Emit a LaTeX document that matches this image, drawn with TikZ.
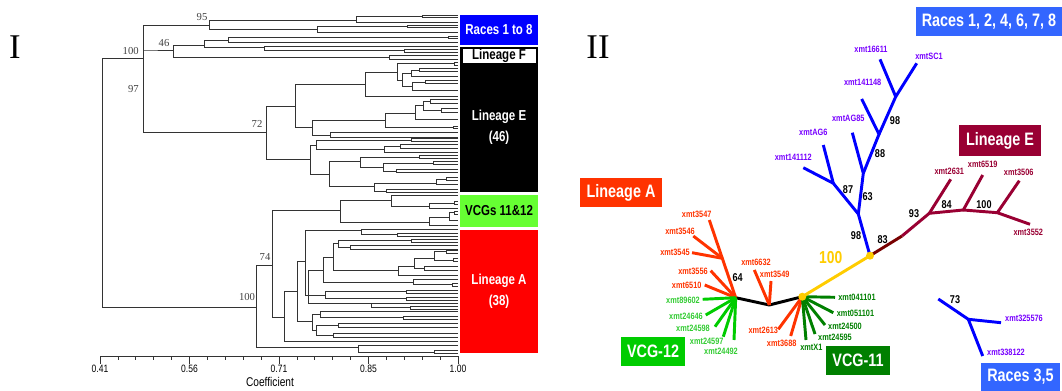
\documentclass[tikz,border=0pt]{standalone}
\usepackage{fontspec}
\setmainfont{Liberation Serif}
\newfontfamily\nfont[FakeStretch=0.8]{Liberation Sans}
\usepackage{tikz}
\definecolor{raceB}{RGB}{0,0,255}
\definecolor{raceBox}{RGB}{51,102,255}
\definecolor{raceTxt}{RGB}{119,0,255}
\definecolor{linE}{RGB}{153,0,51}
\definecolor{linEd}{RGB}{120,0,0}
\definecolor{linA}{RGB}{255,51,0}
\definecolor{vcgL}{RGB}{0,204,0}
\definecolor{vcgLt}{RGB}{51,204,51}
\definecolor{vcgD}{RGB}{0,128,0}
\definecolor{gold}{RGB}{255,204,0}
\definecolor{limeG}{RGB}{102,255,51}
\tikzset{
  dline/.style={draw=black!80, line width=0.5pt},
  dnum/.style={font=\fontsize{8}{8}\selectfont, text=black!75, inner sep=0pt},
  ticklab/.style={font=\nfont\fontsize{8}{8}\selectfont, inner sep=0pt},
  bartxt/.style={font=\nfont\bfseries\fontsize{10.8}{13}\selectfont, text=white, align=center, inner sep=0pt},
  boxlab/.style={font=\nfont\bfseries\fontsize{13.5}{14}\selectfont, text=white, inner sep=0pt},
  leaf/.style={font=\nfont\bfseries\fontsize{6.9}{7}\selectfont, inner sep=0pt},
  boot/.style={font=\nfont\bfseries\fontsize{8.5}{9}\selectfont, inner sep=0pt},
  tr/.style={line width=2.2pt, line join=round}
}
\begin{document}
\begin{tikzpicture}[x=0.75pt, y=-0.75pt]
\useasboundingbox (0,0) rectangle (1062,391);
% panel I: dendrogram
\node[font=\fontsize{26}{26}\selectfont] (pI) at (15,47) {I};
\foreach \x/\ya/\yb/\xa/\xb in {
  102/58/307/143/256, 143/25/132/209/266, 143/50/50/173/173,
  209/20.7/29.3/356/317, 356/16.5/22.7/422/458, 422/15.5/17.5/458/458,
  317/26/32/407/458, 407/25/27.5/458/458,
  173/45/57/204/389, 204/40.7/47.7/228/264, 228/37.7/42.3/448/458,
  448/36.5/38.8/458/458, 264/46/50.7/458/404, 404/49.3/52.3/458/458,
  389/55.3/59.3/458/458,
  266/106/159/295/310, 295/84/127/365/312, 365/72/96/397/458,
  397/63/80/454/402, 454/62/65.5/458/458, 402/73/86/411/412,
  411/70/76/419/458, 419/68.5/71.5/458/458, 412/82/90/425/458,
  425/80.5/83.5/458/458,
  312/120/135/385/330, 385/113/127/415/453, 415/105/119/423/458,
  423/101/110/430/441, 430/99/103/458/458, 441/108/112/458/458,
  453/126/128.5/458/458, 330/132.7/137/458/458,
  310/145/174/316/329, 316/140/149/411/384, 411/138.3/141.7/458/458,
  384/146.5/152/400/458, 400/144.5/148.5/458/458,
  329/161.7/186/360/374, 360/157/167.7/419/383, 419/155.5/158.5/458/458,
  383/163/171/433/396, 433/161.5/164.5/458/458, 396/169.5/172.5/458/458,
  374/183/191/436/386, 436/179.5/184.5/446/458, 446/177.5/180.5/458/458,
  386/189.5/192.5/458/458,
  256/265/347/272/358, 272/210.7/317.3/340/284,
  340/200/222/391/429, 391/195.5/206/458/429, 429/203/208.5/454/458,
  454/201/204/458/458, 429/217.3/225/449/458, 449/212.7/220/454/458,
  454/211/214/458/458,
  284/291.7/341.7/297/458, 297/261.7/321.7/305/312, 305/230/295/361/325,
  361/229/234/458/397, 397/233/236/458/458, 308/270/303/323/371,
  323/257/282/333/413, 333/243/270.5/338/398, 338/240.5/247/411/350,
  411/239/242/458/458, 350/245/249/458/458, 398/266.5/275/414/458,
  414/258/268/434/424, 434/251.5/260/446/453, 446/250/253/458/458,
  453/258.5/261.5/458/458, 424/266.5/270/458/458, 413/279/284/458/452,
  452/283/286/458/458, 325/291.5/298.5/406/406, 406/290/293/458/458,
  406/297/300/458/458, 371/303/307/458/410, 410/306/309/458/458,
  312/314/330/320/316, 320/311.5/317/458/403, 403/316/319/458/458,
  316/325/335/338/333, 338/323.5/327/458/458, 333/333/337/458/458,
  358/345/352/458/434, 434/350.5/353.5/458/458}
  \draw[dline] (\xa,\ya) -- (\x,\ya) -- (\x,\yb) -- (\xb,\yb);
\node[dnum] (n95) at (202,17) {95};
\node[dnum, anchor=east] (n100a) at (139,51) {100};
\node[dnum] (n46) at (164,43) {46};
\node[dnum, anchor=east] (n97) at (139,89) {97};
\node[dnum] (n72) at (257,124) {72};
\node[dnum] (n74) at (265,257) {74};
\node[dnum] (n100b) at (247,297) {100};
% axis
\draw[dline] (100,356) -- (458,356);
\foreach \i in {0,...,20} \draw[dline] (100+\i*17.9,356) -- ++(0,4);
\foreach \i/\lab in {0/0.41,1/0.56,2/0.71,3/0.85,4/1.00} {
  \draw[dline] (100+\i*89.5,356) -- ++(0,8);
  \node[ticklab] (t\i) at (100+\i*89.5,369) {\lab};
}
\node[font=\nfont\fontsize{9.5}{10}\selectfont] (coef) at (270,382) {Coefficient};
% colour bars
\fill[raceB] (460,15) rectangle (538,45);
\fill[black] (460,47) rectangle (538,192);
\fill[white] (463,49) rectangle (536,63);
\fill[limeG] (460,195) rectangle (538,227);
\fill[red] (460,230) rectangle (538,353);
\node[bartxt] (bR) at (499,30) {Races 1 to 8};
\node[bartxt, text=black] (bF) at (499,56) {Lineage F};
\node[bartxt] (bE) at (499,127) {Lineage E\\[3pt](46)};
\node[bartxt, text=black] (bV) at (499,211) {VCGs 11\&12};
\node[bartxt] (bA) at (499,291) {Lineage A\\[3pt](38)};
% panel II: unrooted tree
\node[font=\fontsize{26}{26}\selectfont] (pII) at (598,47) {II};
\coordinate (jE) at (870,255.7);
\coordinate (jA) at (802.3,296.7);
\coordinate (b1) at (858.3,214);
\coordinate (b2) at (833.3,183.3);
\coordinate (b3) at (863.3,173.3);
\coordinate (b4) at (879,134.3);
\coordinate (b5) at (895.7,96.7);
\coordinate (l141112) at (803.3,167.7);
\coordinate (lAG6) at (823.3,145);
\coordinate (lAG85) at (852.3,132.7);
\coordinate (l141148) at (861.7,99);
\coordinate (l16611) at (880,59.3);
\coordinate (lSC1) at (916.7,63.3);
\coordinate (m1) at (902,236);
\coordinate (m2) at (929.3,213.3);
\coordinate (m3) at (963.3,210);
\coordinate (m4) at (997.3,212.7);
\coordinate (l2631) at (950.7,179.3);
\coordinate (l6519) at (982.7,175);
\coordinate (l3506) at (1019.3,180.7);
\coordinate (l3552) at (1030,224.3);
\coordinate (k1) at (769.3,305);
\coordinate (k2) at (735.7,297.7);
\coordinate (a1) at (722.3,258.3);
\coordinate (l3547) at (709.3,220);
\coordinate (l3546) at (693.3,236);
\coordinate (l3545) at (692,252.7);
\coordinate (l3556) at (710.7,270.7);
\coordinate (l6510) at (704.7,285);
\coordinate (l6632) at (754.3,270);
\coordinate (l3549) at (771,281);
\coordinate (l89602) at (702.7,299.3);
\coordinate (l24646) at (705.7,315);
\coordinate (l24598) at (715,326.7);
\coordinate (l24597) at (723.3,336.7);
\coordinate (l24492) at (734,340);
\coordinate (l2613) at (778.3,329.3);
\coordinate (l3688) at (790.7,336);
\coordinate (l041101) at (835,297.3);
\coordinate (l051101) at (833.3,312.7);
\coordinate (l24500) at (825,325);
\coordinate (l24595) at (815,334);
\coordinate (lX1) at (806,340);
\coordinate (r0) at (938.3,299);
\coordinate (r1) at (968.3,319.3);
\coordinate (l325576) at (1001,322.7);
\coordinate (l338122) at (982.7,356);
% races 1,2,4,6,7,8
\draw[tr, raceB] (jE) -- (b1) -- (b2) -- (l141112);
\draw[tr, raceB] (b2) -- (lAG6);
\draw[tr, raceB] (b1) -- (b3) -- (lAG85);
\draw[tr, raceB] (b3) -- (b4) -- (l141148);
\draw[tr, raceB] (b4) -- (b5) -- (l16611);
\draw[tr, raceB] (b5) -- (lSC1);
% lineage E
\draw[tr, linEd] (jE) -- (m1);
\draw[tr, linE] (m1) -- (m2) -- (l2631);
\draw[tr, linE] (m2) -- (m3) -- (l6519);
\draw[tr, linE] (m3) -- (m4) -- (l3506);
\draw[tr, linE] (m4) -- (l3552);
% lineage A and VCG-12
\draw[tr, black] (jA) -- (k1) -- (k2);
\draw[tr, linA] (k2) -- (a1) -- (l3547);
\draw[tr, linA] (a1) -- (l3546);
\draw[tr, linA] (a1) -- (l3545);
\draw[tr, linA] (k2) -- (l3556);
\draw[tr, linA] (k2) -- (l6510);
\draw[tr, linA] (k1) -- (l6632);
\draw[tr, linA] (k1) -- (l3549);
\foreach \l in {l89602,l24646,l24598,l24597,l24492}
  \draw[tr, vcgL] (k2) -- (\l);
% VCG-11
\draw[tr, linA] (jA) -- (l2613);
\draw[tr, linA] (jA) -- (l3688);
\foreach \l in {l041101,l051101,l24500,l24595,lX1}
  \draw[tr, vcgD] (jA) -- (\l);
% races 3,5
\draw[tr, raceB] (r0) -- (r1) -- (l325576);
\draw[tr, raceB] (r1) -- (l338122);
% link
\draw[tr, gold] (jA) -- (jE);
\fill[gold] (jE) circle (3pt);
\fill[gold] (jA) circle (3pt);
% leaf labels
\node[leaf, raceTxt] (t16611) at (871,49) {xmt16611};
\node[leaf, raceTxt] (tSC1) at (929,56.7) {xmtSC1};
\node[leaf, raceTxt] (t141148) at (862.7,82) {xmt141148};
\node[leaf, raceTxt] (tAG85) at (848.3,118.3) {xmtAG85};
\node[leaf, raceTxt] (tAG6) at (813.3,132.3) {xmtAG6};
\node[leaf, raceTxt] (t141112) at (793.3,157.7) {xmt141112};
\node[leaf, raceTxt] (t325576) at (1024,318.3) {xmt325576};
\node[leaf, raceTxt] (t338122) at (1006,352.7) {xmt338122};
\node[leaf, linE] (t2631) at (949.3,171) {xmt2631};
\node[leaf, linE] (t6519) at (982.7,164.3) {xmt6519};
\node[leaf, linE] (t3506) at (1018.7,172) {xmt3506};
\node[leaf, linE] (t3552) at (1028.3,232.7) {xmt3552};
\node[leaf, linA] (t3547) at (696.7,214) {xmt3547};
\node[leaf, linA] (t3546) at (680,231.7) {xmt3546};
\node[leaf, linA] (t3545) at (675,252.7) {xmt3545};
\node[leaf, linA] (t3556) at (693,271.7) {xmt3556};
\node[leaf, linA] (t6510) at (686.7,285) {xmt6510};
\node[leaf, linA] (t6632) at (756,262.7) {xmt6632};
\node[leaf, linA] (t3549) at (774.7,274) {xmt3549};
\node[leaf, linA] (t2613) at (763.3,330) {xmt2613};
\node[leaf, linA] (t3688) at (781.7,343.3) {xmt3688};
\node[leaf, vcgLt] (t89602) at (683,300) {xmt89602};
\node[leaf, vcgLt] (t24646) at (686,316) {xmt24646};
\node[leaf, vcgLt] (t24598) at (693,328.7) {xmt24598};
\node[leaf, vcgLt] (t24597) at (706.7,341.7) {xmt24597};
\node[leaf, vcgLt] (t24492) at (721,351) {xmt24492};
\node[leaf, vcgD] (t041101) at (857,297.3) {xmt041101};
\node[leaf, vcgD] (t051101) at (855.5,313.3) {xmt051101};
\node[leaf, vcgD] (t24500) at (845,326) {xmt24500};
\node[leaf, vcgD] (t24595) at (835,337.3) {xmt24595};
\node[leaf, vcgD] (tX1) at (811.3,347.3) {xmtX1};
% bootstrap values
\node[boot] (s87) at (848,190) {87};
\node[boot] (s63) at (867.7,196.7) {63};
\node[boot] (s98a) at (856,236) {98};
\node[boot] (s88) at (880,154) {88};
\node[boot] (s98b) at (895,121) {98};
\node[boot] (s83) at (882.7,240) {83};
\node[boot] (s93) at (914,214) {93};
\node[boot] (s84) at (946.7,205) {84};
\node[boot] (s100) at (984,205) {100};
\node[boot] (s64) at (737.7,277.3) {64};
\node[boot] (s73) at (955,300) {73};
\node[boot, gold, font=\nfont\bfseries\fontsize{13}{13}\selectfont] (s100y) at (830.7,257.7) {100};
% group boxes
\node[boxlab, fill=raceBox, minimum width=109.5pt, minimum height=21.75pt] (gR1) at (989,21.5) {Races 1, 2, 4, 6, 7, 8};
\node[boxlab, fill=linE, minimum width=61.5pt, minimum height=23.25pt] (gE) at (1000,140.5) {Lineage E};
\node[boxlab, fill=linA, minimum width=61.5pt, minimum height=21.75pt] (gA) at (621,192.5) {Lineage A};
\node[boxlab, fill=vcgL, minimum width=48pt, minimum height=21.75pt] (g12) at (653,351.5) {VCG-12};
\node[boxlab, fill=vcgD, minimum width=48pt, minimum height=21.75pt] (g11) at (858,360.5) {VCG-11};
\node[boxlab, fill=raceBox, minimum width=59.25pt, minimum height=21pt] (gR2) at (1020.5,377) {Races 3,5};
\end{tikzpicture}
\end{document}
